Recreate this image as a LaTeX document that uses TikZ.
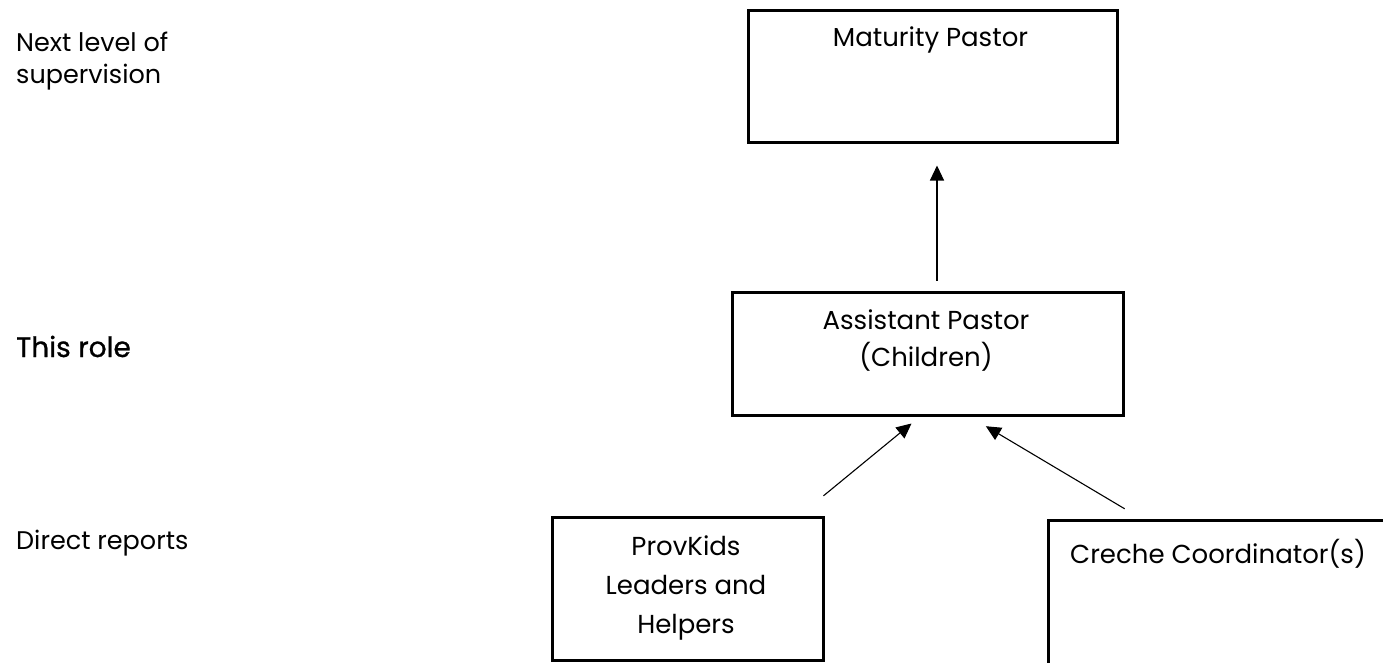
\documentclass[tikz,border=0pt]{standalone}
\usepackage{fontspec}
\setmainfont{Poppins}
\newfontfamily\rolefont[FakeBold=0.8]{Poppins}
\usetikzlibrary{arrows.meta,calc}
\tikzset{
  box/.style={draw=black, line width=3pt, rectangle, inner sep=0pt},
  txt/.style={font=\fontsize{26}{37}\selectfont, inner sep=0pt, text=black},
  side/.style={font=\fontsize{25.5}{32}\selectfont, inner sep=0pt, text=black, anchor=base west},
  arr/.style={draw=black, line width=1.1pt, -{Triangle[length=15pt,width=14pt]}}
}
\begin{document}
\begin{tikzpicture}[x=1pt,y=-1pt]
\useasboundingbox (0,0) rectangle (1383,662);
\fill[white] (0,0) rectangle (1383,662);
% left labels
\node[side, align=left] (lvl) at (16,83) {Next level of\\supervision};
\node[side, font=\rolefont\fontsize{28}{32}\selectfont] (role) at (16,357) {This role};
\node[side] (dir) at (16,549) {Direct reports};
% boxes
\node[box, minimum width=369pt, minimum height=132pt] (mat) at (932.5,76) {};
\node[box, minimum width=391pt, minimum height=123pt] (asst) at (927.5,353.5) {};
\node[box, minimum width=271pt, minimum height=143pt] (prov) at (687.5,588.5) {};
\node[box, minimum width=400pt, minimum height=220pt] (cre) at (1248,630) {};
% box texts
\node[txt, anchor=base] (matt) at (930.5,46) {Maturity Pastor};
\node[txt, anchor=base, align=center, font=\fontsize{26}{37}\selectfont] (asstt) at (926,366) {Assistant Pastor\\(Children)};
\node[txt, anchor=base, align=center, font=\fontsize{26}{39}\selectfont] (provt) at (686,633) {ProvKids\\Leaders and\\Helpers};
\node[txt, anchor=base] (cret) at (1218,563) {Creche Coordinator(s)};
% connectors
\draw[arr, shorten <=10pt, shorten >=22pt] ([xshift=9.5pt]asst.north) -- ([xshift=9.5pt]asst.north |- mat.south);
\draw[arr, shorten <=31pt, shorten >=11pt] ([xshift=-25pt]prov.north east) -- ([xshift=-7.5pt]asst.south);
\draw[arr, shorten <=19pt, shorten >=19pt] ([xshift=94.5pt]cre.north west) -- ([xshift=42pt]asst.south);
\end{tikzpicture}
\end{document}
